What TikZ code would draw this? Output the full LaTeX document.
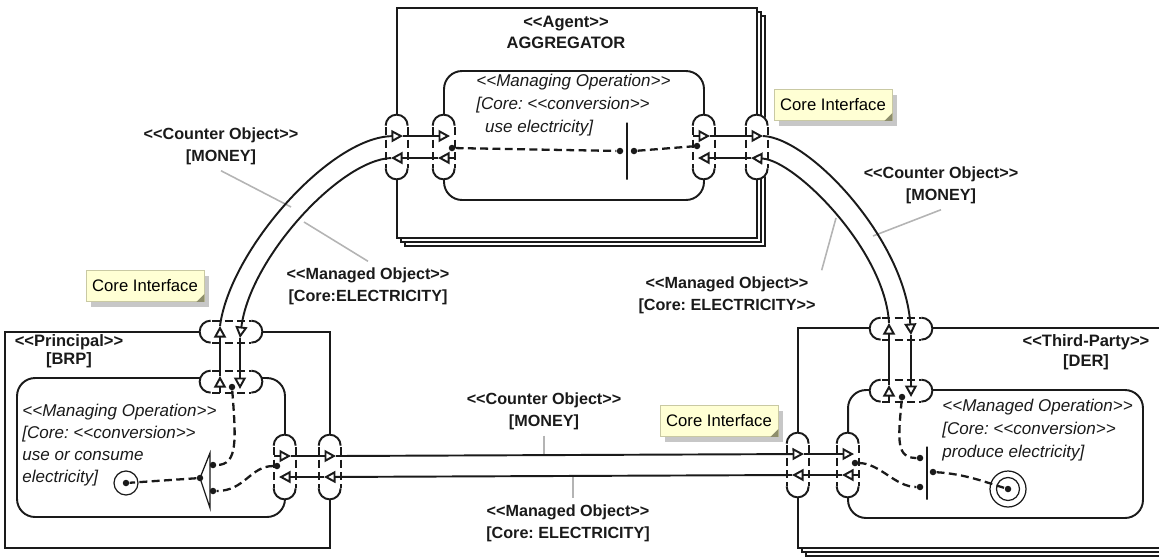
\documentclass[tikz,border=0pt]{standalone}
\usepackage{fontspec}
\setmainfont{Liberation Sans}[Ligatures=TeXOff]
\usetikzlibrary{arrows.meta,shadows,calc}
\frenchspacing

\definecolor{ink}{HTML}{1A1A1A}
\definecolor{notefill}{HTML}{FFFFD4}
\definecolor{notedraw}{HTML}{C9C9A3}
\definecolor{notefold}{HTML}{8E8E6C}
\definecolor{leadgray}{HTML}{B4B4B4}

\tikzset{
  box/.style={draw=ink, line width=1.1pt, fill=white, inner sep=0pt},
  stack/.style={copy shadow={shadow xshift=0.16cm, shadow yshift=-0.16cm, draw=ink, fill=white, line width=0.8pt},
                copy shadow={shadow xshift=0.08cm, shadow yshift=-0.08cm, draw=ink, fill=white, line width=0.8pt}},
  opbox/.style={draw=ink, line width=1.1pt, fill=white, rounded corners=0.36cm, inner sep=0pt},
  vportnode/.style={inner sep=0pt, minimum width=0.44cm, minimum height=1.28cm},
  hportnode/.style={inner sep=0pt, minimum width=1.24cm, minimum height=0.44cm},
  portcap/.style={draw=ink, line width=1.1pt},
  portside/.style={draw=ink, line width=1.1pt, dash pattern=on 4.5pt off 2.5pt, dash phase=-1pt},
  flow/.style={draw=ink, line width=1.1pt, -{Triangle[open, length=0.23cm, width=0.24cm]}},
  ctrl/.style={draw=ink, line width=1.3pt, dash pattern=on 4.5pt off 2.5pt},
  dot/.style={circle, fill=ink, inner sep=0pt, minimum size=0.13cm},
  bar/.style={draw=ink, line width=0.7pt, inner sep=0pt, minimum width=0pt},
  lbl/.style={font=\bfseries\fontsize{9.2}{12.5}\selectfont, align=center, text=ink},
  optext/.style={font=\itshape\fontsize{9.7}{13}\selectfont, align=left, anchor=west, inner sep=0pt, text=ink},
  lead/.style={draw=leadgray, line width=0.9pt},
  note/.style={draw=notedraw, fill=notefill, line width=0.5pt, minimum width=2.36cm, minimum height=0.62cm,
    font=\fontsize{9.5}{11}\selectfont, drop shadow={shadow xshift=0.1cm, shadow yshift=-0.1cm, fill=black!22, opacity=1}},
}

% vertical port: name, centre
\newcommand{\vport}[2]{%
  \node[vportnode] (#1) at (#2) {};
  \fill[white, rounded corners=0.2cm] (#1.south west) rectangle (#1.north east);
  \draw[portcap] ([yshift=-0.22cm]#1.north west) arc[start angle=180, end angle=0, radius=0.22cm];
  \draw[portcap] ([yshift=0.22cm]#1.south west) arc[start angle=180, end angle=360, radius=0.22cm];
  \draw[portside] ([yshift=-0.22cm]#1.north west) -- ([yshift=0.22cm]#1.south west)
                  ([yshift=-0.22cm]#1.north east) -- ([yshift=0.22cm]#1.south east);
}
% horizontal port: name, centre
\newcommand{\hport}[2]{%
  \node[hportnode] (#1) at (#2) {};
  \fill[white, rounded corners=0.2cm] (#1.south west) rectangle (#1.north east);
  \draw[portcap] ([xshift=0.22cm]#1.north west) arc[start angle=90, end angle=270, radius=0.22cm];
  \draw[portcap] ([xshift=-0.22cm]#1.north east) arc[start angle=90, end angle=-90, radius=0.22cm];
  \draw[portside] ([xshift=0.22cm]#1.north west) -- ([xshift=-0.22cm]#1.north east)
                  ([xshift=0.22cm]#1.south west) -- ([xshift=-0.22cm]#1.south east);
}

\begin{document}
\begin{tikzpicture}[x=0.02cm, y=0.02cm]
  \useasboundingbox (0,0) rectangle (1159,-559);

  % parties
  \node[box, stack, minimum width=7.2cm, minimum height=4.6cm] (agent) at (577,-123) {};
  \node[box, minimum width=6.5cm, minimum height=4.32cm] (brp) at (167.5,-440) {};
  \node[box, stack, minimum width=7.44cm, minimum height=4.4cm] (der) at (984,-438) {};

  \node[opbox, minimum width=5.2cm, minimum height=2.58cm] (agop) at (574,-135.5) {};
  \node[opbox, minimum width=5.36cm, minimum height=2.78cm] (brpop) at (151,-447.5) {};
  \node[opbox, minimum width=5.9cm, minimum height=2.56cm] (derop) at (995.5,-454) {};

  \node[lbl, font=\bfseries\fontsize{9.4}{12}\selectfont] (agtitle) at (566,-32) {<<Agent>>\\AGGREGATOR};
  \node[lbl, font=\bfseries\fontsize{9.4}{10}\selectfont] (brptitle) at (69,-351) {<<Principal>>\\ {[}BRP]};
  \node[lbl, font=\bfseries\fontsize{9.4}{11.3}\selectfont] (dertitle) at (1086,-352) {<<Third-Party>>\\ {[}DER]};

  \node[optext] (agtext) at (476,-105) {<<Managing Operation>>\\ {[}Core: <<conversion>>\\ \hspace*{5pt}use electricity]};
  \node[optext, font=\itshape\fontsize{9.7}{12.5}\selectfont] (brptext) at (22,-445) {<<Managing Operation>>\\ {[}Core: <<conversion>>\\ use or consume\\ electricity]};
  \node[optext] (dertext) at (942,-430) {<<Managed Operation>>\\ {[}Core: <<conversion>>\\ produce electricity]};

  % ports
  \vport{aoL}{397,-147} \vport{aiL}{444,-147} \vport{aiR}{704,-147} \vport{aoR}{757,-147}
  \hport{boT}{231,-332} \hport{biT}{231,-382} \vport{biR}{285,-467} \vport{boR}{330,-467}
  \hport{doT}{901,-329} \hport{diT}{901,-391} \vport{doL}{798,-465} \vport{diL}{848,-465}

  % aggregator operation
  \node[dot] (d1) at ($(aiL)+(8,-1)$) {};
  \node[bar, minimum height=1.14cm] (bar1) at (627,-151) {};
  \node[dot] (d2) at ($(bar1)+(-7,0)$) {};
  \node[dot] (d3) at ($(bar1)+(7,0)$) {};
  \node[dot] (d4) at ($(aiR)+(-7,1)$) {};
  \draw[ctrl] (d1) -- (d2);
  \draw[ctrl] (d3) -- (d4);

  % brp operation
  \node[circle, draw=ink, line width=0.7pt, minimum size=0.48cm, inner sep=0pt] (init) at (126,-483) {};
  \node[dot] (d10) at (init) {};
  \coordinate (mg) at (200,-478);
  \draw[ink, line width=0.7pt] (mg) -- ++(10,25) -- ++(0,-55) -- cycle;
  \node[dot] (d9) at (mg) {};
  \node[dot] (d6) at ($(mg)+(13,13)$) {};
  \node[dot] (d8) at ($(mg)+(13,-13)$) {};
  \node[dot] (d5) at ($(biT)+(1,-5)$) {};
  \node[dot] (d7) at ($(biR)+(-8,1)$) {};
  \draw[ctrl] (d5) .. controls (236,-440) and (238,-465) .. (d6);
  \draw[ctrl] (d7) .. controls (250,-466) and (245,-491) .. (d8);
  \draw[ctrl] (d9) -- (d10);

  % der operation
  \node[bar, minimum height=1.06cm] (bar2) at (927,-473) {};
  \node[circle, draw=ink, line width=0.7pt, minimum size=0.72cm, inner sep=0pt] (final) at (1008,-489) {};
  \node[circle, draw=ink, line width=0.7pt, minimum size=0.46cm, inner sep=0pt] at (final) {};
  \node[dot] (d16) at (final) {};
  \node[dot] (d12) at ($(bar2)+(-7,15)$) {};
  \node[dot] (d14) at ($(bar2)+(-7,-14)$) {};
  \node[dot] (d15) at ($(bar2)+(6,1)$) {};
  \node[dot] (d11) at ($(diT)+(1,-6)$) {};
  \node[dot] (d13) at ($(diL)+(7,2)$) {};
  \draw[ctrl] (d11) .. controls (898,-440) and (896,-458) .. (d12);
  \draw[ctrl] (d13) .. controls (880,-463) and (895,-487) .. (d14);
  \draw[ctrl] (d15) .. controls (965,-474) and (985,-482) .. (d16);

  % labels and leaders
  \node[lbl] (co1) at (221,-146) {<<Counter Object>>\\ {[}MONEY]};
  \node[lbl] (mo1) at (368,-286) {<<Managed Object>>\\ {[}Core:ELECTRICITY]};
  \node[lbl] (co2) at (941,-185) {<<Counter Object>>\\ {[}MONEY]};
  \node[lbl] (mo2) at (727,-295) {<<Managed Object>>\\ {[}Core: ELECTRICITY>>};
  \node[lbl] (co3) at (544,-411) {<<Counter Object>>\\ {[}MONEY]};
  \node[lbl] (mo3) at (568,-523) {<<Managed Object>>\\ {[}Core: ELECTRICITY]};
  \coordinate (m1) at (291,-207);
  \coordinate (m2) at (304,-222);
  \coordinate (m3) at (873,-236);
  \coordinate (m4) at (836,-218);
  \coordinate (m5) at (544,-456);
  \coordinate (m6) at (573,-477);
  \draw[lead] (co1.south) -- (m1);
  \draw[lead] (mo1.north) -- (m2);
  \draw[lead] (co2.south) -- (m3);
  \draw[lead] (mo2.north east) -- (m4);
  \draw[lead] (co3.south) -- (m5);
  \draw[lead] (m6) -- (m6 |- mo3.north);

  % brp -> aggregator
  \draw[flow] ($(biT)+(-11,-11)$) -- ($(biT)+(-11,6)$);
  \draw[flow] ($(biT)+(-11,6)$) -- ($(boT)+(-11,6)$);
  \draw[flow] ($(boT)+(-11,6)$) .. controls (230,-250) and (330,-137) .. ($(aoL)+(6,11)$);
  \draw[flow] ($(aoL)+(6,11)$) -- ($(aiL)+(6,11)$);
  % aggregator -> brp
  \draw[flow] ($(aiL)+(12,-11)$) -- ($(aiL)+(-6,-11)$);
  \draw[flow] ($(aiL)+(-6,-11)$) -- ($(aoL)+(-6,-11)$);
  \draw[flow] ($(aoL)+(-6,-11)$) .. controls (340,-160) and (250,-258) .. ($(boT)+(9,-6)$);
  \draw[flow] ($(boT)+(9,-6)$) -- ($(biT)+(9,-7)$);
  % aggregator -> der
  \draw[flow] ($(aiR)+(-11,11)$) -- ($(aiR)+(6,11)$);
  \draw[flow] ($(aiR)+(6,11)$) -- ($(aoR)+(6,11)$);
  \draw[flow] ($(aoR)+(6,11)$) .. controls (810,-138) and (905,-240) .. ($(doT)+(10,-6)$);
  \draw[flow] ($(doT)+(10,-6)$) -- ($(diT)+(10,-6)$);
  % der -> aggregator
  \draw[flow] ($(diT)+(-12,-11)$) -- ($(diT)+(-12,6)$);
  \draw[flow] ($(diT)+(-12,6)$) -- ($(doT)+(-12,6)$);
  \draw[flow] ($(doT)+(-12,6)$) .. controls (885,-250) and (795,-160) .. ($(aoR)+(-6,-11)$);
  \draw[flow] ($(aoR)+(-6,-11)$) -- ($(aiR)+(-6,-11)$);
  % brp -> der
  \draw[flow] ($(biR)+(-11,11)$) -- ($(biR)+(6,11)$);
  \draw[flow] ($(biR)+(6,11)$) -- ($(boR)+(6,11)$);
  \draw[flow] ($(boR)+(6,11)$) -- ($(doL)+(6,11)$);
  \draw[flow] ($(doL)+(6,11)$) -- ($(diL)+(6,11)$);
  % der -> brp
  \draw[flow] ($(diL)+(11,-10)$) -- ($(diL)+(-6,-10)$);
  \draw[flow] ($(diL)+(-6,-10)$) -- ($(doL)+(-6,-10)$);
  \draw[flow] ($(doL)+(-6,-10)$) -- ($(boR)+(-6,-10)$);
  \draw[flow] ($(boR)+(-6,-10)$) -- ($(biR)+(-6,-10)$);

  % notes
  \node[note] (ci1) at (145,-286) {Core Interface};
  \node[note] (ci2) at (833,-105) {Core Interface};
  \node[note] (ci3) at (719,-421) {Core Interface};
  \foreach \n in {ci1,ci2,ci3}
    \fill[notefold] (\n.south east) -- ++(-8,0) -- ++(8,8) -- cycle;
\end{tikzpicture}
\end{document}
